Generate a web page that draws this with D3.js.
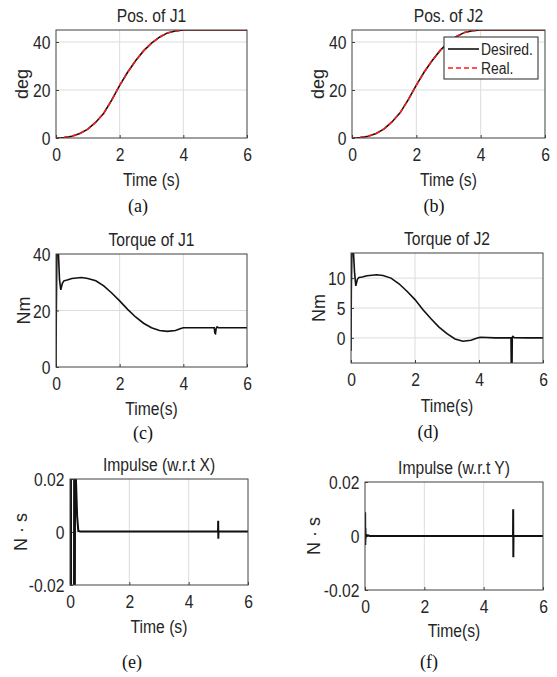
<!DOCTYPE html>
<html>
<head>
<meta charset="utf-8">
<script src="https://cdn.jsdelivr.net/npm/d3@7"></script>
<style>
  html, body { margin: 0; padding: 0; background: #fff; }
  svg { display: block; }
</style>
</head>
<body>
<svg id="chart" width="557" height="677"></svg>
<script>
// ---------------- DATA ----------------
const timeTicks = [0, 2, 4, 6];

// Position of joints (deg)
const posTime     = [0, 0.25, 0.5, 0.75, 1.0, 1.25, 1.5, 1.75, 2.0, 2.25, 2.5, 2.75, 3.0, 3.25, 3.5, 3.75, 4.0, 4.5, 5.0, 5.5, 6.0];
const posJ1Des    = [0, 0.2, 0.7, 1.9, 3.7, 6.6, 10.3, 15.8, 21.9, 27.4, 32.2, 36.3, 39.5, 42.0, 43.8, 44.6, 45, 45, 45, 45, 45];
const posJ1Real   = [0, 0.2, 0.7, 1.9, 3.7, 6.6, 10.3, 15.8, 21.9, 27.4, 32.2, 36.3, 39.5, 42.0, 43.8, 44.6, 45, 45, 45, 45, 45];
const posJ2Des    = [0, 0.2, 0.7, 1.9, 3.8, 6.8, 10.6, 16.0, 22.0, 27.6, 32.4, 36.6, 39.8, 42.3, 44.0, 44.7, 45, 45, 45, 45, 45];
const posJ2Real   = [0, 0.2, 0.7, 1.9, 3.8, 6.8, 10.6, 16.0, 22.0, 27.6, 32.4, 36.6, 39.8, 42.3, 44.0, 44.7, 45, 45, 45, 45, 45];
const posTicks    = [0, 20, 40];

// Torque of joints (Nm)
const tqJ1Time = [0, 0.01, 0.03, 0.07, 0.11, 0.15, 0.2, 0.25, 0.35, 0.5, 0.8, 1.0, 1.25, 1.5, 1.75, 2.0, 2.25, 2.5, 2.75, 3.0, 3.25, 3.5, 3.75, 3.9, 4.0, 4.5, 4.97, 4.99, 5.01, 5.03, 5.06, 5.1, 5.5, 6.0];
const tqJ1     = [0, 20, 42, 42, 31, 27.3, 29.6, 30.5, 30.8, 31.3, 31.7, 31.3, 30.5, 28.7, 26.2, 23.4, 20.4, 17.7, 15.5, 13.9, 12.9, 12.6, 12.9, 13.5, 13.9, 13.9, 13.9, 12.0, 11.8, 13.6, 14.2, 13.9, 13.9, 13.9];
const tqJ1Ticks = [0, 20, 40];

const tqJ2Time = [0, 0.01, 0.03, 0.07, 0.11, 0.15, 0.2, 0.25, 0.35, 0.5, 0.8, 1.0, 1.25, 1.5, 1.75, 2.0, 2.25, 2.5, 2.75, 3.0, 3.25, 3.5, 3.75, 3.9, 4.0, 4.05, 4.5, 5.0, 5.01, 5.03, 5.04, 5.06, 5.1, 5.5, 6.0];
const tqJ2     = [-2.2, 8, 15, 15, 11, 8.7, 9.8, 10.1, 10.2, 10.4, 10.55, 10.45, 10.0, 9.05, 7.8, 6.4, 4.7, 3.2, 1.8, 0.7, -0.17, -0.55, -0.4, -0.1, 0.05, 0.1, 0.0, 0.0, -6, -6, 0.1, 0.25, 0.05, 0, 0];
const tqJ2Ticks = [0, 5, 10];

// Impulse (N·s)
const impXTime = [0, 0.008, 0.018, 0.028, 0.04, 0.13, 0.145, 0.16, 0.175, 0.19, 0.2, 0.24, 0.28, 0.35, 1, 2, 3, 4, 4.99, 4.995, 5.0, 5.005, 6];
const impX     = [0, 0.08, -0.08, 0.08, -0.08, -0.08, 0.08, -0.08, 0.08, 0.08, 0.02, 0.006, 0.0004, 0.0002, 0.0002, 0.0002, 0.0002, 0.0002, 0.0002, 0.0042, -0.0025, 0.0002, 0.0002];
const impYTime = [0, 0.005, 0.01, 0.015, 0.02, 0.03, 0.05, 0.1, 0.15, 1, 2, 3, 4, 4.99, 4.995, 5.0, 5.005, 6];
const impY     = [0, 0.0088, -0.0033, 0.003, -0.001, 0.0005, 0.0002, 0.0003, 0, 0, 0, 0, 0, 0, 0.0099, -0.0079, 0, 0];
const impTicks = [-0.02, 0, 0.02];

// Texts
const titles   = ["Pos. of J1", "Pos. of J2", "Torque of J1", "Torque of J2", "Impulse (w.r.t X)", "Impulse (w.r.t Y)"];
const yLabels  = ["deg", "deg", "Nm", "Nm", "N · s", "N · s"];
const xLabels  = ["Time (s)", "Time (s)", "Time(s)", "Time(s)", "Time (s)", "Time(s)"];
const captions = ["(a)", "(b)", "(c)", "(d)", "(e)", "(f)"];
const legendLabels = ["Desired.", "Real."];

// ---------------- LAYOUT ----------------
const SX = 0.87;              // horizontal condensation of the sans text
const SANS = "'Liberation Sans', Arial, Helvetica, sans-serif";
const SERIF = "'Liberation Serif', 'Times New Roman', serif";
const TXT = "#262626";

const panels = [
  { box: [56, 247, 30, 138],  ydom: [0, 45],      yt: posTicks,  series: [{t: posTime, v: posJ1Des, kind: "des"}, {t: posTime, v: posJ1Real, kind: "real"}],
    title: [22], xl: 186, yl: 28, cap: [138, 212] },
  { box: [352, 545, 30, 138], ydom: [0, 45],      yt: posTicks,  series: [{t: posTime, v: posJ2Des, kind: "des"}, {t: posTime, v: posJ2Real, kind: "real"}],
    title: [22], xl: 186, yl: 324, cap: [434, 212], legend: true },
  { box: [56, 247, 254, 367], ydom: [0, 40],      yt: tqJ1Ticks, series: [{t: tqJ1Time, v: tqJ1, kind: "des"}],
    title: [246], xl: 415, yl: 30, cap: [143, 439] },
  { box: [351, 543, 253, 363], ydom: [-4.2, 14.2], yt: tqJ2Ticks, series: [{t: tqJ2Time, v: tqJ2, kind: "des"}],
    title: [245], xl: 412, yl: 325, cap: [428, 438] },
  { box: [70, 248, 479, 585], ydom: [-0.02, 0.02], yt: impTicks, series: [{t: impXTime, v: impX, kind: "imp"}],
    title: [471], xl: 633, yl: 27, cap: [132, 668] },
  { box: [365, 543, 482, 590], ydom: [-0.02, 0.02], yt: impTicks, series: [{t: impYTime, v: impY, kind: "imp"}],
    title: [474], xl: 637, yl: 320, cap: [429, 668] }
];

const svg = d3.select("#chart");

function hText(g, x, y, s, size, anchor, family) {
  return g.append("text")
    .attr("transform", `translate(${x},${y}) scale(${SX},1)`)
    .attr("text-anchor", anchor)
    .attr("fill", TXT)
    .style("font-size", size + "px")
    .style("font-family", family)
    .text(s);
}

function fmtTick(d) {
  if (d === 0) return "0";
  return Math.abs(d) < 1 ? d.toFixed(2) : String(d);
}

panels.forEach((p, i) => {
  const [x0, x1, y0, y1] = p.box;
  const x = d3.scaleLinear().domain([0, 6]).range([x0, x1]);
  const y = d3.scaleLinear().domain(p.ydom).range([y1, y0]);
  const g = svg.append("g");

  g.append("rect").attr("x", x0).attr("y", y0).attr("width", x1 - x0).attr("height", y1 - y0).attr("fill", "#fff");

  // grid
  g.selectAll(".gx").data(timeTicks.filter(d => d > 0 && d < 6)).join("line")
    .attr("x1", d => x(d)).attr("x2", d => x(d)).attr("y1", y0).attr("y2", y1)
    .attr("stroke", "#dcdcdc").attr("stroke-width", 1);
  g.selectAll(".gy").data(p.yt.filter(d => y(d) > y0 + 1 && y(d) < y1 - 1)).join("line")
    .attr("x1", x0).attr("x2", x1).attr("y1", d => y(d)).attr("y2", d => y(d))
    .attr("stroke", "#dcdcdc").attr("stroke-width", 1);

  // axes (ticks inward)
  const ax = g.append("g").attr("transform", `translate(0,${y1})`)
    .call(d3.axisBottom(x).tickValues(timeTicks).tickSizeInner(-3).tickSizeOuter(0).tickFormat(d3.format("d")));
  ax.select(".domain").remove();
  ax.selectAll("line").attr("stroke", "#404040");
  ax.selectAll("text").attr("y", null).attr("dy", null)
    .attr("transform", `translate(0,23) scale(${SX},1)`)
    .attr("fill", TXT).style("font-size", "18px").style("font-family", SANS);

  const ay = g.append("g").attr("transform", `translate(${x0},0)`)
    .call(d3.axisLeft(y).tickValues(p.yt).tickSizeInner(-3).tickSizeOuter(0).tickFormat(fmtTick));
  ay.select(".domain").remove();
  ay.selectAll("line").attr("stroke", "#404040");
  ay.selectAll("text").attr("x", null).attr("dy", null)
    .attr("transform", `translate(-5.5,6.5) scale(${SX},1)`)
    .attr("fill", TXT).style("font-size", "18px").style("font-family", SANS);

  // clip
  const cid = "clip" + i;
  svg.append("clipPath").attr("id", cid).append("rect")
    .attr("x", x0).attr("y", y0).attr("width", x1 - x0).attr("height", y1 - y0);

  const line = d3.line().x(d => x(d[0])).y(d => y(d[1]));
  const lg = g.append("g").attr("clip-path", `url(#${cid})`);
  p.series.forEach(s => {
    const pts = s.t.map((t, k) => [t, s.v[k]]);
    const path = lg.append("path").attr("d", line(pts)).attr("fill", "none");
    if (s.kind === "real") {
      path.attr("stroke", "#ff1a1a").attr("stroke-width", 1.6).attr("stroke-dasharray", "5,3");
    } else if (s.kind === "imp") {
      path.attr("stroke", "#111").attr("stroke-width", 2);
    } else {
      path.attr("stroke", "#111").attr("stroke-width", 1.6);
    }
  });

  // box
  g.append("rect").attr("x", x0).attr("y", y0).attr("width", x1 - x0).attr("height", y1 - y0)
    .attr("fill", "none").attr("stroke", "#404040").attr("stroke-width", 1);

  hText(g, (x0 + x1) / 2, p.title[0], titles[i], 18, "middle", SANS);
  hText(g, (x0 + x1) / 2, p.xl, xLabels[i], 18, "middle", SANS);
  g.append("text")
    .attr("transform", `translate(${p.yl},${(y0 + y1) / 2}) rotate(-90)`)
    .attr("text-anchor", "middle").attr("fill", TXT)
    .style("font-size", "18px").style("font-family", SANS)
    .text(yLabels[i]);
  g.append("text")
    .attr("x", p.cap[0]).attr("y", p.cap[1])
    .attr("text-anchor", "middle").attr("fill", "#111")
    .style("font-size", "18px").style("font-family", SERIF)
    .text(captions[i]);

  if (p.legend) {
    const lx = 444, ly = 37, lw = 94, lh = 42;
    const leg = g.append("g");
    leg.append("rect").attr("x", lx).attr("y", ly).attr("width", lw).attr("height", lh)
      .attr("fill", "#fff").attr("stroke", "#262626").attr("stroke-width", 1);
    const rows = [{y: 49, kind: "des"}, {y: 68, kind: "real"}];
    rows.forEach((r, k) => {
      const l = leg.append("line").attr("x1", 448).attr("x2", 479).attr("y1", r.y).attr("y2", r.y);
      if (r.kind === "real") l.attr("stroke", "#ff1a1a").attr("stroke-width", 1.6).attr("stroke-dasharray", "5,3");
      else l.attr("stroke", "#111").attr("stroke-width", 1.6);
      hText(leg, 481, r.y + 6, legendLabels[k], 16, "start", SANS);
    });
  }
});
</script>
</body>
</html>
